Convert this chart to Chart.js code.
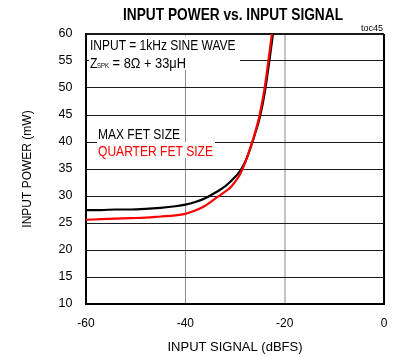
<!DOCTYPE html>
<html>
<head>
<meta charset="utf-8">
<script src="https://cdn.jsdelivr.net/npm/chart.js"></script>
<style>
   html, body { margin: 0; padding: 0; background: #fff; }
</style>
</head>
<body>
<canvas id="grafica" width="401" height="356"></canvas>
<script>
// datos (dBFS -> mW)
const senal = [-60, -57, -54, -51, -48, -45, -42, -40, -38, -36, -34, -32, -31, -30, -29, -28, -27, -26, -25, -24, -23, -22];
const maxFet = [27.4, 27.4, 27.5, 27.5, 27.6, 27.8, 28.1, 28.4, 28.9, 29.6, 30.6, 31.8, 32.6, 33.5, 34.6, 36.2, 38.6, 41.4, 44.6, 49.2, 55.6, 62.5];
const quarterFet = [25.6, 25.7, 25.8, 25.9, 26.0, 26.2, 26.4, 26.7, 27.3, 28.2, 29.5, 30.8, 31.5, 32.6, 34.0, 36.1, 38.7, 41.6, 45.2, 50.2, 57.0, 64.0];
const ticksX = [-60, -40, -20, 0];
const ticksY = [10, 15, 20, 25, 30, 35, 40, 45, 50, 55, 60];

const FUENTE = "'Liberation Sans', Arial, sans-serif";

// escribe un texto apretado horizontalmente hasta el ancho pedido
function textoAjustado(c, texto, x, y, ancho) {
   const w = c.measureText(texto).width;
   c.save();
   c.translate(x, y);
   c.scale(ancho / w, 1);
   c.fillText(texto, 0, 0);
   c.restore();
}

const notas = {
   id: 'notas',
   beforeDatasetsDraw(chart) {
      const c = chart.ctx;
      c.save();
      c.fillStyle = '#fff';
      c.fillRect(89, 36, 151, 34);
      c.fillRect(97, 127, 86, 15);
      c.fillRect(97, 142, 118, 16);

      c.textBaseline = 'alphabetic';
      c.textAlign = 'left';
      c.fillStyle = '#000';
      c.font = '14px ' + FUENTE;
      textoAjustado(c, 'INPUT = 1kHz SINE WAVE', 90, 50, 145.5);
      textoAjustado(c, 'Z', 90, 67.7, 7.5);
      c.font = '7.5px ' + FUENTE;
      textoAjustado(c, 'SPK', 97, 67.5, 12);
      c.font = '14px ' + FUENTE;
      textoAjustado(c, ' = 8Ω + 33μH', 109, 67.7, 77);

      textoAjustado(c, 'MAX FET SIZE', 98, 139, 82);
      c.fillStyle = '#ff0000';
      textoAjustado(c, 'QUARTER FET SIZE', 98, 155.7, 115);
      c.restore();
   },
   afterDraw(chart) {
      const c = chart.ctx;
      c.save();
      c.fillStyle = '#000';
      c.textBaseline = 'alphabetic';
      c.textAlign = 'left';
      c.font = 'bold 16.5px ' + FUENTE;
      textoAjustado(c, 'INPUT POWER vs. INPUT SIGNAL', 123, 20, 220);
      c.font = '9px ' + FUENTE;
      c.textAlign = 'right';
      c.fillText('toc45', 383, 31);
      c.restore();
   }
};

const ctx = document.getElementById('grafica').getContext('2d');

const chart = new Chart(ctx, {
   type: 'line',
   data: {
      datasets: [{
         label: 'QUARTER FET SIZE',
         data: senal.map((s, i) => ({ x: s, y: quarterFet[i] })),
         borderColor: '#ff0000',
         borderWidth: 2.2,
         pointRadius: 0,
         cubicInterpolationMode: 'monotone',
         fill: false
      }, {
         label: 'MAX FET SIZE',
         data: senal.map((s, i) => ({ x: s, y: maxFet[i] })),
         borderColor: '#000',
         borderWidth: 2.2,
         pointRadius: 0,
         cubicInterpolationMode: 'monotone',
         fill: false
      }]
   },
   options: {
      responsive: false,
      animation: false,
      layout: {
         padding: { left: 0, right: 17, top: 34, bottom: 0 }
      },
      plugins: {
         legend: { display: false },
         tooltip: { enabled: false },
         title: { display: false }
      },
      scales: {
         x: {
            type: 'linear',
            min: -60,
            max: 0,
            afterBuildTicks: s => { s.ticks = ticksX.map(v => ({ value: v })); },
            afterFit: s => { s.height = 52; },
            grid: {
               drawTicks: false,
               color: c => c.tick.value === -40 ? '#8a8a8a' : (c.tick.value === -20 ? '#c4c4c4' : '#000'),
               lineWidth: c => (c.tick.value === -40 ? 1 : 2)
            },
            border: { display: true, color: '#000', width: 2 },
            ticks: {
               color: '#000',
               padding: 12,
               font: { family: FUENTE, size: 12 }
            },
            title: {
               display: true,
               text: 'INPUT SIGNAL (dBFS)',
               color: '#000',
               font: { family: FUENTE, size: 13 },
               padding: { top: 0, bottom: 0.7 }
            }
         },
         y: {
            min: 10,
            max: 60,
            afterBuildTicks: s => { s.ticks = ticksY.map(v => ({ value: v })); },
            afterFit: s => { s.width = 86; },
            grid: {
               drawTicks: false,
               color: '#1a1a1a',
               lineWidth: c => (c.tick.value === 60 || c.tick.value === 10 ? 2 : 1)
            },
            border: { display: true, color: '#000', width: 2 },
            ticks: {
               color: '#000',
               padding: 13.5,
               font: { family: FUENTE, size: 12.5 }
            },
            title: {
               display: true,
               text: 'INPUT POWER (mW)',
               color: '#000',
               font: { family: FUENTE, size: 12 },
               padding: { top: 20.8, bottom: 0 }
            }
         }
      }
   },
   plugins: [notas]
});
</script>
</body>
</html>
